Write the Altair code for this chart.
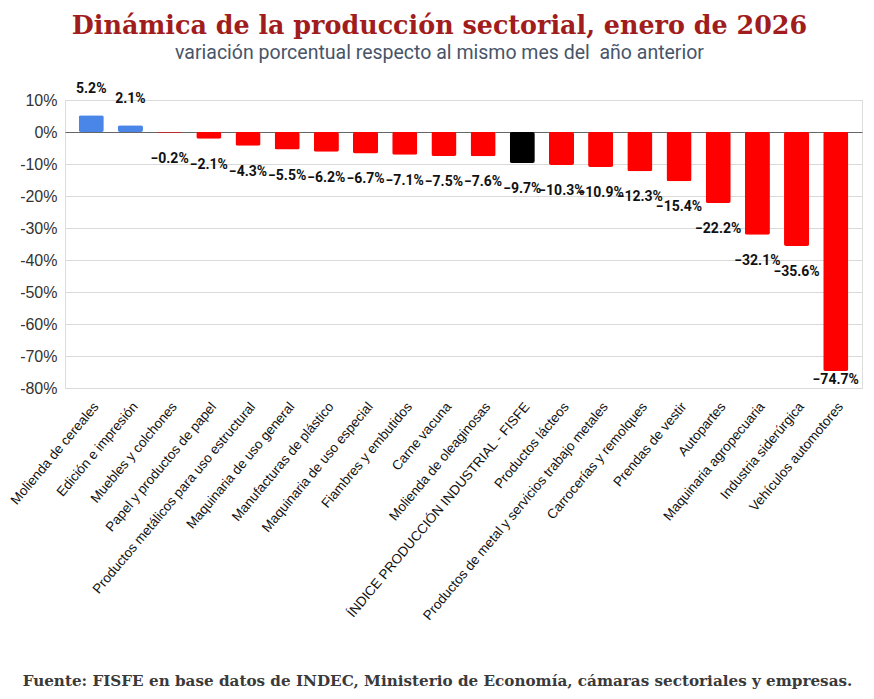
import altair as alt
import pandas as pd

categorias = [
    "Molienda de cereales",
    "Edición e impresión",
    "Muebles y colchones",
    "Papel y productos de papel",
    "Productos metálicos para uso estructural",
    "Maquinaria de uso general",
    "Manufacturas de plástico",
    "Maquinaria de uso especial",
    "Fiambres y embutidos",
    "Carne vacuna",
    "Molienda de oleaginosas",
    "ÍNDICE PRODUCCIÓN INDUSTRIAL - FISFE",
    "Productos lácteos",
    "Productos de metal y servicios trabajo metales",
    "Carrocerías y remolques",
    "Prendas de vestir",
    "Autopartes",
    "Maquinaria agropecuaria",
    "Industria siderúrgica",
    "Vehículos automotores",
]
valores = [5.2, 2.1, -0.2, -2.1, -4.3, -5.5, -6.2, -6.7, -7.1, -7.5, -7.6,
           -9.7, -10.3, -10.9, -12.3, -15.4, -22.2, -32.1, -35.6, -74.7]
grupos = (["positivo"] * 2 + ["negativo"] * 9 + ["indice"] + ["negativo"] * 8)
ticks_y = [10, 0, -10, -20, -30, -40, -50, -60, -70, -80]

TITULO = "Dinámica de la producción sectorial, enero de 2026"
SUBTITULO = "variación porcentual respecto al mismo mes del\u00a0 año anterior"
FUENTE = "Fuente: FISFE en base datos de INDEC, Ministerio de Economía, cámaras sectoriales y empresas."

df = pd.DataFrame({"categoria": categorias, "valor": valores, "grupo": grupos})

W, H = 797, 288

x_enc = alt.X(
    "categoria:N",
    sort=categorias,
    scale=alt.Scale(paddingInner=0.36, paddingOuter=0.35),
    axis=alt.Axis(
        title=FUENTE,
        labelAngle=-50,
        labelFont="Liberation Sans",
        labelFontSize=13.5,
        labelColor="#111",
        labelLimit=500,
        labelPadding=16,
        labelOffset=5,
        labelOverlap=False,
        domain=False,
        ticks=False,
        titleFont="DejaVu Serif",
        titleFontWeight="bold",
        titleFontSize=15.2,
        titleColor="#3a3a3a",
        titleX=372,
        titleY=297,
        titleAlign="center",
        titleBaseline="alphabetic",
    ),
)
y_enc = alt.Y(
    "valor:Q",
    title="",
    scale=alt.Scale(domain=[-80, 10], nice=False),
    axis=alt.Axis(
        values=ticks_y,
        labelExpr="datum.value + '%'",
        labelFont="Liberation Sans",
        labelFontSize=16,
        labelColor="#333",
        labelPadding=8,
        labelOverlap=False,
        domain=False,
        ticks=False,
        gridColor={"condition": {"test": "datum.value === 0", "value": "#666666"},
                   "value": "#d9d9d9"},
        gridWidth=1,
    ),
)

base = alt.Chart(df).encode(x=x_enc, y=y_enc)

bars = base.mark_bar(cornerRadius=2).encode(
    color=alt.Color(
        "grupo:N",
        scale=alt.Scale(domain=["positivo", "negativo", "indice"],
                        range=["#4a86e8", "#ff0000", "#000000"]),
        legend=None,
    ),
)

lab = base.transform_calculate(etiqueta="format(datum.valor, '.1f') + '%'")
txt_style = dict(font="Roboto", fontWeight="bold", fontSize=14, color="#111", baseline="middle")

lab_pos = lab.transform_filter("datum.valor > 0").mark_text(dy=-26, **txt_style).encode(
    text="etiqueta:N")
lab_neg = lab.transform_filter("datum.valor <= 0 && datum.valor > -60").mark_text(dy=26, **txt_style).encode(
    text="etiqueta:N")
lab_big = lab.transform_filter("datum.valor <= -60").mark_text(dy=9, **txt_style).encode(
    text="etiqueta:N")

chart = alt.layer(bars, lab_pos, lab_neg, lab_big).properties(
    width=W,
    height=H,
    autosize=alt.AutoSizeParams(type="none"),
    padding={"left": 57, "top": 92, "right": 4, "bottom": 303},
    title=alt.TitleParams(
        text=TITULO,
        subtitle=SUBTITULO,
        font="DejaVu Serif",
        fontSize=25.4,
        fontWeight="bold",
        color="#a11d1d",
        subtitleFont="Roboto",
        subtitleFontSize=19.5,
        subtitleColor="#475569",
        subtitlePadding=4,
        anchor="middle",
        dx=-24,
        offset=20,
    ),
).configure_view(stroke=None).configure(background="white")

chart.save("out.html", embed_options={"renderer": "svg", "actions": False})
